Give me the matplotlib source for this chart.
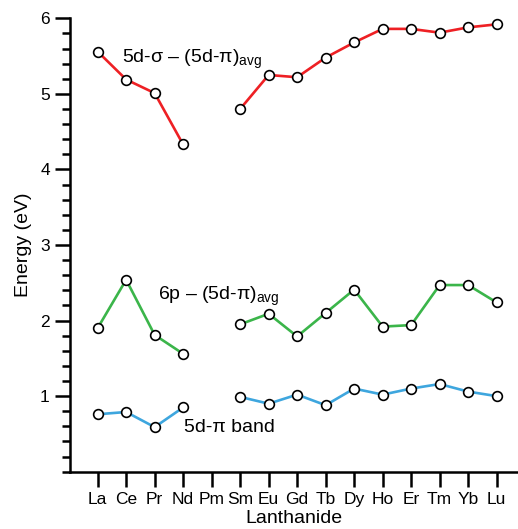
import numpy as np
import matplotlib
matplotlib.use("Agg")
import matplotlib.pyplot as plt
from matplotlib.ticker import MultipleLocator

plt.rcParams['font.family'] = ['Liberation Sans', 'DejaVu Sans']
plt.rcParams['mathtext.fontset'] = 'custom'
plt.rcParams['mathtext.rm'] = 'Liberation Sans'

# lanthanides (Pm has no data)
elements = ["La", "Ce", "Pr", "Nd", "Pm", "Sm", "Eu", "Gd", "Tb", "Dy",
            "Ho", "Er", "Tm", "Yb", "Lu"]
nan = np.nan
sigma_pi = [5.56, 5.19, 5.01, 4.33, nan, 4.80, 5.25, 5.22, 5.48, 5.68,
            5.86, 5.86, 5.81, 5.88, 5.92]
p_pi = [1.90, 2.54, 1.81, 1.56, nan, 1.95, 2.09, 1.79, 2.10, 2.41,
        1.92, 1.94, 2.47, 2.47, 2.24]
pi_band = [0.76, 0.79, 0.59, 0.85, nan, 0.99, 0.90, 1.02, 0.88, 1.10,
           1.02, 1.10, 1.16, 1.06, 1.00]

fig = plt.figure(figsize=(5.18, 5.29), dpi=100)
ax = fig.add_axes([70/518, 1 - 471.7/529, 448/518, (471.7 - 18.3)/529])

x = np.arange(len(elements))
series = [(sigma_pi, "#ee2024"), (p_pi, "#3bb54a"), (pi_band, "#3ea6de")]
for vals, col in series:
    ax.plot(x, vals, '-', color=col, lw=1.9, marker='o', ms=7,
            mfc='white', mec='black', mew=1.2, zorder=3)

ax.text(0.84, 5.415, r'5d-σ – (5d-π)$_{\mathrm{avg}}$', fontsize=14,
        va='baseline', ha='left')
ax.text(2.13, 2.28, r'6p – (5d-π)$_{\mathrm{avg}}$', fontsize=14,
        va='baseline', ha='left')
ax.text(3.03, 0.53, '5d-π band', fontsize=14, va='baseline', ha='left')

ax.set_xlim(-0.97, 14.75)
ax.set_ylim(0, 6)
ax.set_xticks(x)
ax.set_xticklabels(elements)
ax.yaxis.set_major_locator(MultipleLocator(1))
ax.yaxis.set_minor_locator(MultipleLocator(0.2))
ax.set_yticks([1, 2, 3, 4, 5, 6])

for s in ['top', 'right']:
    ax.spines[s].set_visible(False)
for s in ['left', 'bottom']:
    ax.spines[s].set_linewidth(1.8)
ax.tick_params(axis='both', which='major', direction='out', length=11,
               width=1.8, labelsize=12.5)
ax.tick_params(axis='y', which='minor', direction='out', length=6, width=1.8)

ax.set_xlabel("Lanthanide", fontsize=14, labelpad=2)
ax.set_ylabel("Energy (eV)", fontsize=14, labelpad=6)

fig.savefig("out.png", dpi=100)
